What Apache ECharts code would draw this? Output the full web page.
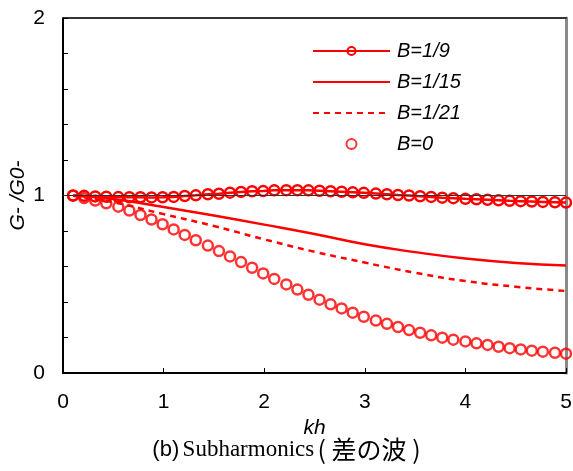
<!DOCTYPE html>
<html>
<head>
<meta charset="utf-8">
<script src="https://cdn.jsdelivr.net/npm/echarts@6/dist/echarts.min.js"></script>
<style>
  html, body { margin: 0; padding: 0; background: #fff; }
  #chart { width: 573px; height: 471px; }
</style>
</head>
<body>
<div id="chart"></div>
<script>
// Sample positions (kh) of the marked curves
const khMarks = [0.10, 0.21, 0.32, 0.43, 0.55, 0.66, 0.77, 0.88, 0.99, 1.10,
                 1.21, 1.32, 1.44, 1.55, 1.66, 1.77, 1.88, 1.99, 2.10, 2.22,
                 2.33, 2.44, 2.55, 2.66, 2.77, 2.88, 2.99, 3.11, 3.22, 3.33,
                 3.44, 3.55, 3.66, 3.77, 3.88, 4.00, 4.11, 4.22, 4.33, 4.44,
                 4.55, 4.66, 4.77, 4.89, 5.00];
// G-/G0- for B = 1/9 (line with circles)
const gB9 = [1.000, 0.998, 0.995, 0.993, 0.991, 0.990, 0.990, 0.989, 0.990, 0.992,
             0.997, 1.001, 1.007, 1.010, 1.016, 1.020, 1.024, 1.025, 1.029, 1.030,
             1.030, 1.029, 1.027, 1.024, 1.021, 1.018, 1.015, 1.011, 1.007, 1.003,
             1.000, 0.996, 0.992, 0.988, 0.985, 0.981, 0.979, 0.976, 0.973, 0.970,
             0.968, 0.966, 0.964, 0.962, 0.960];
// G-/G0- for B = 0 (circles only)
const gB0 = [0.999, 0.986, 0.972, 0.956, 0.937, 0.915, 0.890, 0.865, 0.838, 0.809,
             0.778, 0.748, 0.718, 0.687, 0.657, 0.625, 0.593, 0.561, 0.530, 0.499,
             0.470, 0.441, 0.413, 0.387, 0.364, 0.340, 0.317, 0.296, 0.277, 0.259,
             0.242, 0.227, 0.212, 0.199, 0.188, 0.178, 0.167, 0.158, 0.148, 0.140,
             0.133, 0.126, 0.120, 0.114, 0.109];
// Sample positions (kh) of the plain curves
const khLines = [0.1, 0.5, 1.0, 1.5, 2.0, 2.5, 3.0, 3.5, 4.0, 4.5, 5.0];
// G-/G0- for B = 1/15 (solid) and B = 1/21 (dashed)
const gB15 = [0.998, 0.980, 0.935, 0.887, 0.836, 0.783, 0.725, 0.681, 0.645, 0.620, 0.606];
const gB21 = [0.998, 0.962, 0.895, 0.828, 0.753, 0.683, 0.622, 0.565, 0.518, 0.486, 0.462];

const seriesNames = ['B=1/9', 'B=1/15', 'B=1/21', 'B=0'];
const yMajorLabels = [0, 1, 2];
const axisTitleX = 'kh';
const axisTitleY = 'G- /G0-';

const pairs = (xs, ys) => xs.map((x, i) => [x, ys[i]]);

const RED = '#ff0000';
const SANS = 'Liberation Sans, Arial, sans-serif';
const hollow = { color: 'rgba(0,0,0,0)', borderColor: RED, borderWidth: 2.5 };
const noSymbol = { color: 'rgba(0,0,0,0)', borderColor: 'rgba(0,0,0,0)', borderWidth: 0 };

const chart = echarts.init(document.getElementById('chart'), null, { renderer: 'canvas' });

chart.setOption({
  animation: false,
  backgroundColor: '#fff',
  grid: { left: 63, right: 7, top: 18, bottom: 98, containLabel: false, outerBoundsMode: 'none' },
  legend: {
    orient: 'vertical',
    left: 312,
    top: 41,
    padding: 0,
    itemWidth: 77,
    itemHeight: 10,
    itemGap: 11,
    data: [
      { name: seriesNames[0] },
      { name: seriesNames[1], itemStyle: noSymbol },
      { name: seriesNames[2], itemStyle: noSymbol },
      { name: seriesNames[3] }
    ],
    textStyle: { fontFamily: SANS, fontSize: 20, fontStyle: 'italic', color: '#000', padding: [0, 0, 0, 2] }
  },
  xAxis: [{
    type: 'value', min: 0, max: 5, interval: 1,
    name: axisTitleX, nameLocation: 'middle', nameGap: 45, nameMoveOverlap: false,
    nameTextStyle: { fontFamily: SANS, fontSize: 21, fontStyle: 'italic', color: '#000' },
    axisLine: { onZero: false, lineStyle: { color: '#000', width: 2 } },
    axisTick: { inside: true, length: 5, lineStyle: { color: '#000', width: 1 } },
    axisLabel: { fontFamily: SANS, fontSize: 21, color: '#000', margin: 19 },
    splitLine: { show: false }
  }, {
    type: 'value', min: 0, max: 5, position: 'top',
    axisLine: { onZero: false, lineStyle: { color: '#333', width: 2 } },
    axisTick: { show: false }, axisLabel: { show: false }, splitLine: { show: false }
  }],
  yAxis: [{
    type: 'value', min: 0, max: 2, interval: 0.2,
    name: axisTitleY, nameLocation: 'middle', nameGap: 34, nameRotate: 90, nameMoveOverlap: false,
    nameTextStyle: { fontFamily: SANS, fontSize: 21, fontStyle: 'italic', color: '#000' },
    axisLine: { show: true, onZero: false, lineStyle: { color: '#000', width: 2 } },
    axisTick: { show: true, inside: true, length: 5, lineStyle: { color: '#000', width: 1 } },
    axisLabel: {
      fontFamily: SANS, fontSize: 21, color: '#000', margin: 18,
      formatter: v => {
        const r = Math.round(v);
        return (Math.abs(v - r) < 1e-6 && yMajorLabels.includes(r)) ? String(r) : '';
      }
    },
    splitLine: { show: false }
  }, {
    type: 'value', min: 0, max: 2, position: 'right',
    axisLine: { show: true, onZero: false, lineStyle: { color: '#8a8a8a', width: 3 } },
    axisTick: { show: false }, axisLabel: { show: false }, splitLine: { show: false }
  }],
  series: [{
    name: seriesNames[0],
    type: 'line',
    data: pairs(khMarks, gB9),
    symbol: 'circle', symbolSize: 10,
    showAllSymbol: true,
    itemStyle: hollow,
    lineStyle: { color: RED, width: 2.5 },
    z: 4
  }, {
    name: seriesNames[1],
    type: 'line',
    data: pairs(khLines, gB15),
    smooth: true, symbol: 'none',
    itemStyle: { color: RED },
    lineStyle: { color: RED, width: 2.5 },
    z: 3
  }, {
    name: seriesNames[2],
    type: 'line',
    data: pairs(khLines, gB21),
    smooth: true, symbol: 'none',
    itemStyle: { color: RED },
    lineStyle: { color: RED, width: 2.5, type: [6, 5] },
    z: 3
  }, {
    name: seriesNames[3],
    type: 'scatter',
    data: pairs(khMarks, gB0),
    symbol: 'circle', symbolSize: 10,
    itemStyle: hollow,
    z: 4,
    markLine: {
      silent: true,
      symbol: ['none', 'none'],
      label: { show: false },
      lineStyle: { color: '#333', width: 1, type: 'solid' },
      data: [{ yAxis: 1 }]
    }
  }],
  graphic: [{
    type: 'text',
    left: 'center',
    top: 437,
    style: {
      text: '{a|(b)} {b|Subharmonics} {c|( 差の波 )}',
      rich: {
        a: { fontFamily: SANS, fontSize: 22, fill: '#000' },
        b: { fontFamily: 'Liberation Serif, Times New Roman, serif', fontSize: 23, fill: '#000' },
        c: { fontFamily: 'Noto Sans CJK JP, sans-serif', fontSize: 25, fill: '#000' }
      }
    }
  }]
});
</script>
</body>
</html>
